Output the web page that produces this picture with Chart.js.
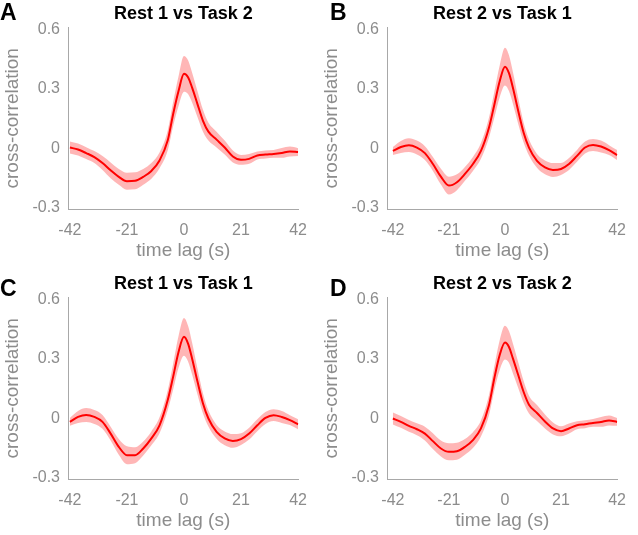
<!DOCTYPE html>
<html>
<head>
<meta charset="utf-8">
<script src="https://cdn.jsdelivr.net/npm/chart.js"></script>
<style>
body { margin: 0; background: #fff; font-family: "Liberation Sans", Arial, sans-serif; }
#wrap { position: relative; width: 638px; height: 535px; }
.pane { position: absolute; width: 319px; height: 268px; }
.letter { position: absolute; font-weight: bold; font-size: 23px; color: #000; line-height: 1; }
</style>
</head>
<body>
<div id="wrap">
  <div class="pane" style="left:0;top:0"><canvas id="chartA"></canvas></div>
  <div class="pane" style="left:319px;top:0"><canvas id="chartB"></canvas></div>
  <div class="pane" style="left:0;top:270px"><canvas id="chartC"></canvas></div>
  <div class="pane" style="left:319px;top:270px"><canvas id="chartD"></canvas></div>
  <div class="letter" style="left:0;top:1px">A</div>
  <div class="letter" style="left:330px;top:1px">B</div>
  <div class="letter" style="left:0;top:277px">C</div>
  <div class="letter" style="left:330px;top:277px">D</div>
</div>
<script>
// time lags (s) shared by all four panels
const lagSec = [-42,-39,-36,-33,-30,-27,-24,-21,-18,-15,-12,-9,-6,-4,-2,0,1.5,3,5,7,9,12,15,18,21,24,27,30,33,36,39,42];

const xTicks = [-42,-21,0,21,42];
const yTicks = [-0.3,0,0.3,0.6];

// mean cross-correlation, one array per panel
const meanA = [0.005,-0.005,-0.023,-0.043,-0.073,-0.11,-0.143,-0.165,-0.163,-0.143,-0.113,-0.06,0.04,0.173,0.29,0.377,0.36,0.307,0.223,0.14,0.085,0.045,0.005,-0.04,-0.057,-0.052,-0.035,-0.03,-0.027,-0.022,-0.015,-0.018];
const meanB = [-0.012,0.008,0.017,0.005,-0.023,-0.078,-0.142,-0.187,-0.17,-0.128,-0.078,-0.012,0.105,0.22,0.338,0.413,0.38,0.305,0.188,0.08,0.005,-0.062,-0.095,-0.108,-0.103,-0.078,-0.037,0.005,0.018,0.01,-0.008,-0.033];
const meanC = [-0.017,0.008,0.018,0.008,-0.017,-0.076,-0.143,-0.185,-0.185,-0.151,-0.1,-0.034,0.092,0.21,0.336,0.412,0.378,0.302,0.185,0.076,0,-0.067,-0.1,-0.113,-0.104,-0.076,-0.034,0.003,0.017,0.008,-0.008,-0.029];
const meanD = [0,-0.017,-0.037,-0.054,-0.076,-0.114,-0.151,-0.168,-0.165,-0.143,-0.109,-0.05,0.067,0.202,0.319,0.383,0.361,0.302,0.218,0.134,0.07,0.028,-0.015,-0.05,-0.064,-0.05,-0.034,-0.029,-0.022,-0.017,-0.01,-0.017];

// half width of the shaded band
const errA = [0.03,0.03,0.03,0.03,0.035,0.04,0.04,0.043,0.043,0.04,0.04,0.04,0.05,0.06,0.075,0.09,0.085,0.075,0.065,0.055,0.045,0.04,0.035,0.03,0.025,0.025,0.02,0.02,0.02,0.025,0.025,0.02];
const errB = [0.02,0.03,0.035,0.035,0.035,0.035,0.04,0.045,0.04,0.035,0.035,0.04,0.05,0.065,0.08,0.095,0.09,0.08,0.065,0.05,0.04,0.035,0.035,0.035,0.03,0.03,0.03,0.03,0.03,0.03,0.025,0.025];
const errC = [0.02,0.03,0.035,0.035,0.035,0.035,0.04,0.045,0.04,0.035,0.035,0.04,0.05,0.065,0.08,0.095,0.09,0.08,0.065,0.05,0.04,0.035,0.035,0.035,0.03,0.03,0.03,0.03,0.03,0.03,0.025,0.025];
const errD = [0.03,0.03,0.03,0.03,0.035,0.04,0.04,0.043,0.043,0.04,0.04,0.04,0.05,0.06,0.075,0.085,0.08,0.075,0.065,0.055,0.045,0.04,0.035,0.03,0.025,0.025,0.02,0.02,0.02,0.025,0.025,0.02];

const gray = '#8c8c8c';
const axisGray = '#a8a8a8';

function pts(ys){
    return lagSec.map(function(x, i){ return {x: x, y: ys[i]} })
}

function makechart(docID, title, mean, err, xmin){
    const ctx = document.getElementById(docID);
    const upper = mean.map(function(v, i){ return v + err[i] })
    const lower = mean.map(function(v, i){ return v - err[i] })

    const myChart = new Chart(ctx, {
        type: 'line',
        data: {
            datasets: [{
                data: pts(mean),
                borderColor: '#ff0000',
                borderWidth: 2,
                pointRadius: 0,
                fill: false,
                cubicInterpolationMode: 'monotone',
                order: 0
            }, {
                data: pts(upper),
                borderWidth: 0,
                borderColor: 'rgba(0,0,0,0)',
                backgroundColor: 'rgba(255, 80, 80, 0.42)',
                pointRadius: 0,
                fill: '+1',
                cubicInterpolationMode: 'monotone',
                order: 1
            }, {
                data: pts(lower),
                borderWidth: 0,
                borderColor: 'rgba(0,0,0,0)',
                pointRadius: 0,
                fill: false,
                cubicInterpolationMode: 'monotone',
                order: 1
            }]
        },
        options: {
            responsive: false,
            animation: false,
            layout: { padding: { left: 0, right: 14, top: 0, bottom: 0 } },
            plugins: {
                legend: { display: false },
                tooltip: { enabled: false },
                title: {
                    display: true,
                    text: title,
                    fullSize: false,
                    color: '#000',
                    font: { family: 'Liberation Sans', size: 18, weight: 'bold' },
                    padding: { top: 3, bottom: 3 }
                }
            },
            scales: {
                x: {
                    type: 'linear',
                    min: xmin,
                    max: 42.2,
                    afterBuildTicks: function(s){ s.ticks = xTicks.map(function(v){ return {value: v} }) },
                    afterFit: function(s){ s.height = 59 },
                    grid: { display: false, drawTicks: false },
                    border: { display: true, color: axisGray, width: 1 },
                    ticks: {
                        color: gray, padding: 12, maxRotation: 0, autoSkip: false,
                        font: { family: 'Liberation Sans', size: 16 }
                    },
                    title: {
                        display: true, text: 'time lag (s)', color: gray,
                        font: { family: 'Liberation Sans', size: 19 },
                        padding: { top: 2, bottom: 6 }
                    }
                },
                y: {
                    min: -0.305,
                    max: 0.61,
                    afterBuildTicks: function(s){ s.ticks = yTicks.map(function(v){ return {value: v} }) },
                    afterFit: function(s){ s.width = 68 },
                    grid: { display: false, drawTicks: false },
                    border: { display: true, color: axisGray, width: 1 },
                    ticks: {
                        color: gray, padding: 8,
                        font: { family: 'Liberation Sans', size: 16 },
                        callback: function(v){ return v == 0 ? '0' : v.toFixed(1) }
                    },
                    title: {
                        display: true, text: 'cross-correlation', color: gray,
                        font: { family: 'Liberation Sans', size: 19 },
                        padding: { top: 1, bottom: 0 }
                    }
                }
            }
        }
    });
}

function sizeit(id){
    const c = document.getElementById(id)
    c.width = 319
    c.height = 268
}

['chartA','chartB','chartC','chartD'].forEach(sizeit)

makechart('chartA', 'Rest 1 vs Task 2', meanA, errA, -42.7)
makechart('chartB', 'Rest 2 vs Task 1', meanB, errB, -44.2)
makechart('chartC', 'Rest 1 vs Task 1', meanC, errC, -42.7)
makechart('chartD', 'Rest 2 vs Task 2', meanD, errD, -44.2)
</script>
</body>
</html>
